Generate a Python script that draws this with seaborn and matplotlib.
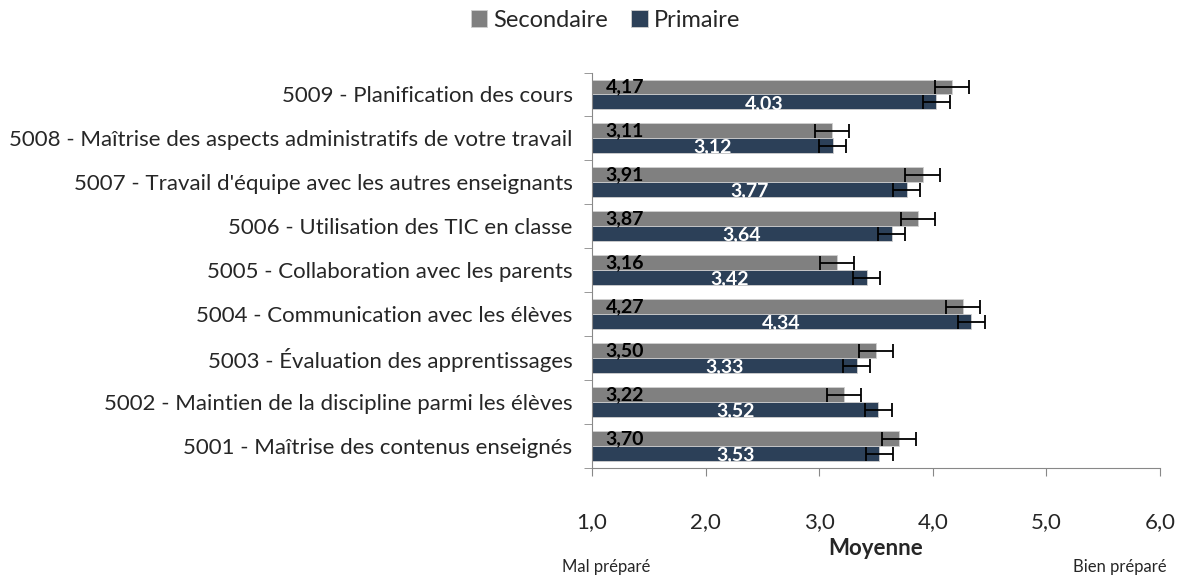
import numpy as np
import pandas as pd
import matplotlib
matplotlib.use("Agg")
import matplotlib.pyplot as plt
import seaborn as sns

# Données
categories = [
    "5009 - Planification des cours",
    "5008 - Maîtrise des aspects administratifs de votre travail",
    "5007 - Travail d'équipe avec les autres enseignants",
    "5006 - Utilisation des TIC en classe",
    "5005 - Collaboration avec les parents",
    "5004 - Communication avec les élèves",
    "5003 - Évaluation des apprentissages",
    "5002 - Maintien de la discipline parmi les élèves",
    "5001 - Maîtrise des contenus enseignés",
]
secondaire = [4.17, 3.11, 3.91, 3.87, 3.16, 4.27, 3.50, 3.22, 3.70]
primaire = [4.03, 3.12, 3.77, 3.64, 3.42, 4.34, 3.33, 3.52, 3.53]
err_secondaire = [0.15, 0.15, 0.15, 0.15, 0.15, 0.15, 0.15, 0.15, 0.15]
err_primaire = [0.12, 0.12, 0.12, 0.12, 0.12, 0.12, 0.12, 0.12, 0.12]
niveaux = ["Secondaire", "Primaire"]
couleurs = ["#808080", "#243F60"]

df = pd.DataFrame({
    "Item": categories * 2,
    "Niveau": ["Secondaire"] * len(categories) + ["Primaire"] * len(categories),
    "Moyenne": secondaire + primaire,
})

sns.set_style("white")
plt.rcParams["font.family"] = ["Lato", "DejaVu Sans"]

fig = plt.figure(figsize=(11.87, 5.80), dpi=100)
ax = fig.add_axes([0.4987, 0.193, 0.4785, 0.682])

sns.barplot(data=df, y="Item", x="Moyenne", hue="Niveau", hue_order=niveaux,
            palette=couleurs, order=categories, orient="h", width=0.68,
            errorbar=None, edgecolor="#d0d0d0", linewidth=0.6, ax=ax)

erreurs = [err_secondaire, err_primaire]
barres = list(ax.containers)
for k, cont in enumerate(barres):
    vals = secondaire if k == 0 else primaire
    for i, p in enumerate(cont.patches):
        yc = p.get_y() + p.get_height() / 2
        v = p.get_width()
        ax.errorbar(v, yc, xerr=erreurs[k][i], fmt="none", ecolor="black",
                    elinewidth=1.3, capsize=5, capthick=1.3)
        txt = f"{vals[i]:.2f}".replace(".", ",")
        if k == 0:
            ax.text(1.12, yc, txt, ha="left", va="center", fontsize=14,
                    fontweight="bold", color="black")
        else:
            ax.text((1 + v) / 2, yc + 0.03, txt, ha="center", va="center", fontsize=14,
                    fontweight="bold", color="white")

ax.set_xlim(1, 6)
ax.set_ylim(len(categories) - 0.5, -0.5)
ax.set_xticks([1, 2, 3, 4, 5, 6])
ax.set_xticklabels(["1,0", "2,0", "3,0", "4,0", "5,0", "6,0"], fontsize=16)
ax.tick_params(axis="x", pad=26, length=6, color="#888888", direction="out", bottom=True)
ax.set_yticks(np.arange(len(categories)))
ax.set_yticklabels(categories, fontsize=16)
ax.set_yticks(np.arange(-0.5, len(categories), 1), minor=True)
ax.tick_params(axis="y", which="major", length=0, pad=14)
ax.tick_params(axis="y", which="minor", length=6, color="#888888", left=True)
ax.set_ylabel("")
ax.set_xlabel("Moyenne", fontsize=16, fontweight="bold", labelpad=4)

for s in ["top", "right"]:
    ax.spines[s].set_visible(False)
for s in ["left", "bottom"]:
    ax.spines[s].set_color("#888888")

ax.legend(loc="upper center", bbox_to_anchor=(0.51, 1.02), ncol=2,
          frameon=False, fontsize=17, handlelength=0.7, handleheight=0.7,
          handletextpad=0.25, columnspacing=1.0,
          bbox_transform=fig.transFigure)

fig.text(606 / 1187, 1 - 567 / 580, "Mal préparé", ha="center", va="center", fontsize=12)
fig.text(1120 / 1187, 1 - 567 / 580, "Bien préparé", ha="center", va="center", fontsize=12)

fig.savefig("out.png", dpi=100)
